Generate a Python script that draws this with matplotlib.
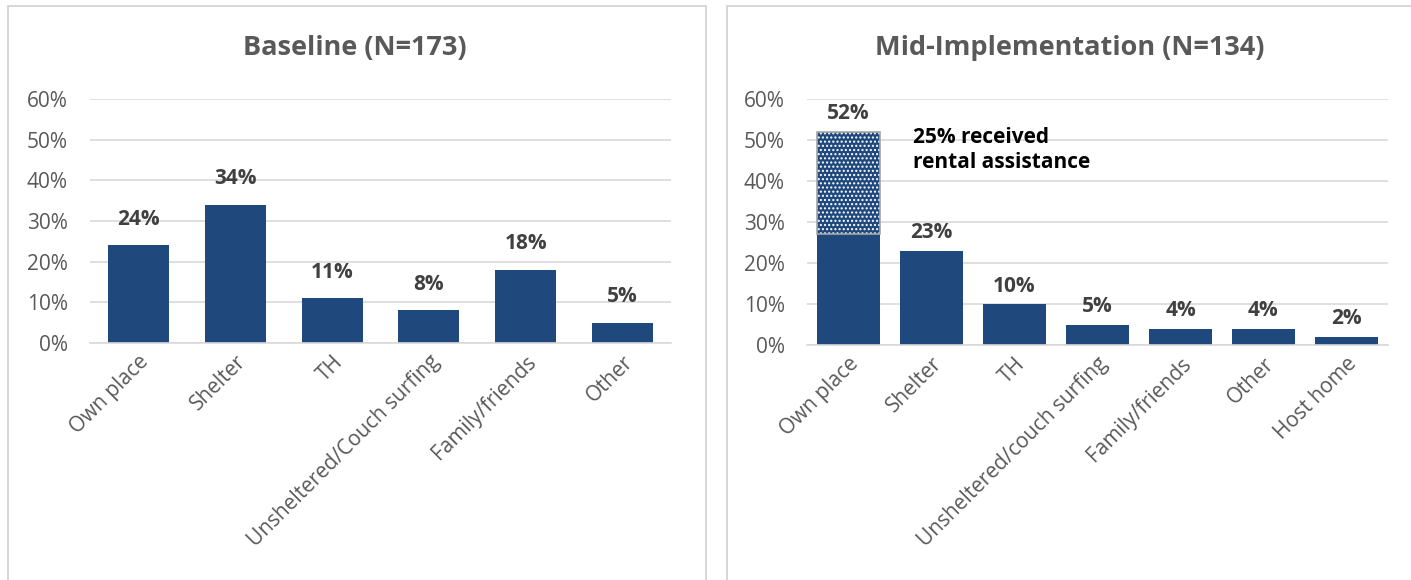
import matplotlib.pyplot as plt
from matplotlib.patches import Rectangle
from matplotlib.ticker import PercentFormatter

plt.rcParams['font.family'] = ['Open Sans', 'DejaVu Sans']

# Datos
base_cats = ['Own place', 'Shelter', 'TH', 'Unsheltered/Couch surfing', 'Family/friends', 'Other']
base_vals = [24, 34, 11, 8, 18, 5]

mid_cats = ['Own place', 'Shelter', 'TH', 'Unsheltered/couch surfing', 'Family/friends', 'Other', 'Host home']
mid_vals = [52, 23, 10, 5, 4, 4, 2]
mid_own_base = 27      # parte sólida de "Own place"
mid_rental = 25        # parte punteada (asistencia de alquiler)

navy = '#1F497D'
gris = '#595959'
etiqueta = '#404040'
rejilla = '#D9D9D9'

fig = plt.figure(figsize=(14.11, 5.8), dpi=100)

# marcos de los paneles
fig.patches.append(Rectangle((8/1411, -0.05), 698/1411, 1.0 - 6/580 + 0.05,
                             transform=fig.transFigure, fill=False,
                             edgecolor='#D0D0D0', linewidth=1.2))
fig.patches.append(Rectangle((727/1411, -0.05), 700/1411, 1.0 - 6/580 + 0.05,
                             transform=fig.transFigure, fill=False,
                             edgecolor='#D0D0D0', linewidth=1.2))


def preparar_ejes(ax, cats):
    ax.set_ylim(0, 60)
    ax.set_yticks(range(0, 61, 10))
    ax.yaxis.set_major_formatter(PercentFormatter(decimals=0))
    ax.grid(axis='y', color=rejilla, linewidth=1.2)
    ax.set_axisbelow(True)
    for s in ['top', 'right', 'left']:
        ax.spines[s].set_visible(False)
    ax.spines['bottom'].set_color(rejilla)
    ax.spines['bottom'].set_linewidth(1.2)
    ax.tick_params(axis='both', length=0, labelsize=15, labelcolor=gris)
    ax.tick_params(axis='y', pad=16)
    ax.tick_params(axis='x', pad=6)
    ax.set_xticks(range(len(cats)))
    ax.set_xticklabels(cats, rotation=45, ha='right', rotation_mode='anchor')
    ax.set_xlim(-0.5, len(cats) - 0.5)


ax1 = fig.add_axes([90/1411, 1 - 343/580, 581/1411, 244/580])
preparar_ejes(ax1, base_cats)
x1 = range(len(base_cats))
ax1.bar(x1, base_vals, width=0.63, color=navy, zorder=2)
for i, v in enumerate(base_vals):
    ax1.text(i, v + 3.8, f'{v}%', ha='center', va='bottom', fontsize=15,
             fontweight='bold', color=etiqueta)
fig.text(355/1411, 1 - 48/580, 'Baseline (N=173)', ha='center', va='center',
         fontsize=19.5, fontweight='bold', color=gris)

ax2 = fig.add_axes([807/1411, 1 - 345/580, 581/1411, 246/580])
preparar_ejes(ax2, mid_cats)
x2 = range(len(mid_cats))
solidos = [mid_own_base] + mid_vals[1:]
ax2.bar(x2, solidos, width=0.76, color=navy, zorder=2)
ax2.bar(0, mid_rental, bottom=mid_own_base, width=0.76, color=navy,
        edgecolor='white', hatch='....', linewidth=0, zorder=2)
ax2.bar(0, mid_rental, bottom=mid_own_base, width=0.76, fill=False,
        edgecolor='#A6A6A6', linewidth=1.2, zorder=3)
for i, v in enumerate(mid_vals):
    ax2.text(i, v + 1.8, f'{v}%', ha='center', va='bottom', fontsize=15,
             fontweight='bold', color=etiqueta)
ax2.text(0.78, 47.5, f'{mid_rental}% received\nrental assistance', ha='left', va='center',
         fontsize=15, fontweight='bold', color='black', linespacing=1.25)
fig.text(1070/1411, 1 - 48/580, 'Mid-Implementation (N=134)', ha='center', va='center',
         fontsize=19.5, fontweight='bold', color=gris)

fig.savefig('out.png', dpi=100)
